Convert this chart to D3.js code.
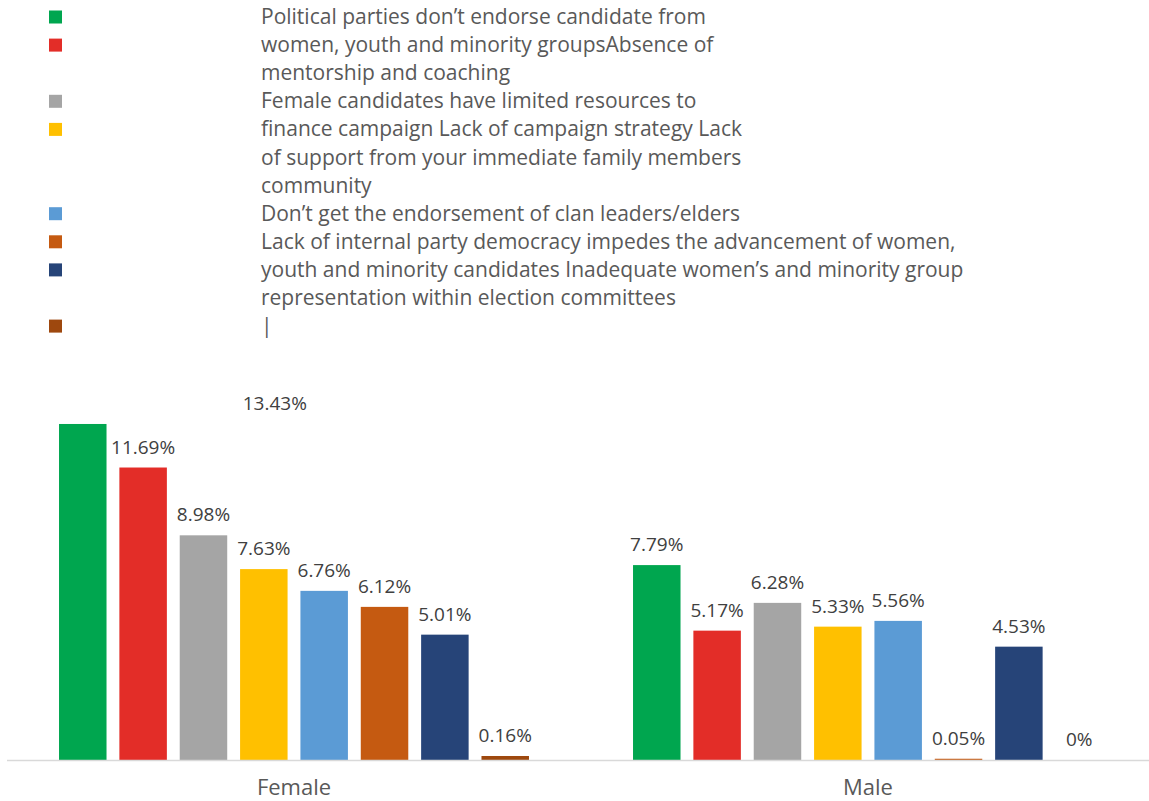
<!DOCTYPE html>
<html>
<head>
<meta charset="utf-8">
<script src="https://cdn.jsdelivr.net/npm/d3@7"></script>
<style>
  html, body { margin: 0; padding: 0; background: #ffffff; }
  svg { display: block; }
</style>
</head>
<body>
<svg id="chart" width="1149" height="801"></svg>
<script>
// Reasons reported, by gender of respondent (percent of responses)
const groups = ["Female", "Male"];
const seriesKeys = ["s1", "s2", "s3", "s4", "s5", "s6", "s7", "s8"];
const femaleValues = [13.43, 11.69, 8.98, 7.63, 6.76, 6.12, 5.01, 0.16];
const maleValues = [7.79, 5.17, 6.28, 5.33, 5.56, 0.05, 4.53, 0];

// Legend rows as they appear; swatch is the series index or null for wrapped lines
const legendTexts = [
  "Political parties don\u2019t endorse candidate from",
  "women, youth and minority groupsAbsence of",
  "mentorship and coaching",
  "Female candidates have limited resources to",
  "finance campaign Lack of campaign strategy Lack",
  "of support from your immediate family members",
  "community",
  "Don\u2019t get the endorsement of clan leaders/elders",
  "Lack of internal party democracy impedes the advancement of women,",
  "youth and minority candidates Inadequate women\u2019s and minority group",
  "representation within election committees",
  "|"
];
const legendSwatches = [0, 1, null, 2, 3, null, null, 4, 5, 6, null, 7];

const palette = ["#00a64f", "#e32d28", "#a5a5a5", "#ffc000", "#5b9bd5", "#c55a11", "#264478", "#9e480e"];

const valuesByGroup = { Female: femaleValues, Male: maleValues };

const svg = d3.select("#chart");
svg.append("rect").attr("width", 1149).attr("height", 801).attr("fill", "#ffffff");

const baseY = 760;
const x0 = d3.scaleBand().domain(groups).range([7, 1155]);
const x1 = d3.scaleBand().domain(seriesKeys).range([0, x0.bandwidth()])
  .paddingInner(0.213).paddingOuter(0.862);
const y = d3.scaleLinear().domain([0, 15]).range([baseY, baseY - 15 * 25.02]);

// Legend
const legend = svg.append("g").attr("class", "legend");
legendTexts.forEach((t, i) => {
  const cy = 17 + i * 28.1;
  const sw = legendSwatches[i];
  if (sw !== null) {
    legend.append("rect")
      .attr("x", 49).attr("y", cy - 6.5)
      .attr("width", 13).attr("height", 13)
      .attr("fill", palette[sw]);
  }
  legend.append("text")
    .attr("x", 261).attr("y", cy + 7)
    .attr("font-family", "'Open Sans', sans-serif")
    .attr("font-size", 21)
    .attr("fill", "#595959")
    .text(t);
});

// Bars
const groupG = svg.append("g").selectAll("g")
  .data(groups)
  .join("g")
  .attr("transform", g => `translate(${x0(g)},0)`);

groupG.selectAll("rect")
  .data(g => valuesByGroup[g].map((v, i) => ({ g, key: seriesKeys[i], i, v })))
  .join("rect")
  .attr("x", d => x1(d.key))
  .attr("width", x1.bandwidth())
  .attr("y", d => y(d.v))
  .attr("height", d => baseY - y(d.v))
  .attr("fill", d => palette[d.i]);

// Value labels; the largest Female label sits off to the right of its bar
const labelShift = (d) => (d.g === "Female" && d.i === 0 ? 192 : 0);
groupG.selectAll("text.value")
  .data(g => valuesByGroup[g].map((v, i) => ({ g, key: seriesKeys[i], i, v })))
  .join("text")
  .attr("class", "value")
  .attr("x", d => x1(d.key) + x1.bandwidth() / 2 + labelShift(d))
  .attr("y", d => y(d.v) - 14)
  .attr("text-anchor", "middle")
  .attr("font-family", "'Open Sans', sans-serif")
  .attr("font-size", 19)
  .attr("fill", "#404040")
  .text(d => `${d.v}%`);

// Category axis
svg.append("line")
  .attr("x1", 7).attr("x2", 1149)
  .attr("y1", baseY + 0.5).attr("y2", baseY + 0.5)
  .attr("stroke", "#d9d9d9").attr("stroke-width", 1.5);

const xAxis = d3.axisBottom(x0).tickSize(0).tickPadding(0);
const axisG = svg.append("g")
  .attr("transform", `translate(0,${baseY})`)
  .call(xAxis);
axisG.select(".domain").remove();
axisG.selectAll("text")
  .attr("y", 35)
  .attr("dy", 0)
  .attr("font-family", "'Open Sans', sans-serif")
  .attr("font-size", 22)
  .attr("fill", "#595959");
</script>
</body>
</html>
